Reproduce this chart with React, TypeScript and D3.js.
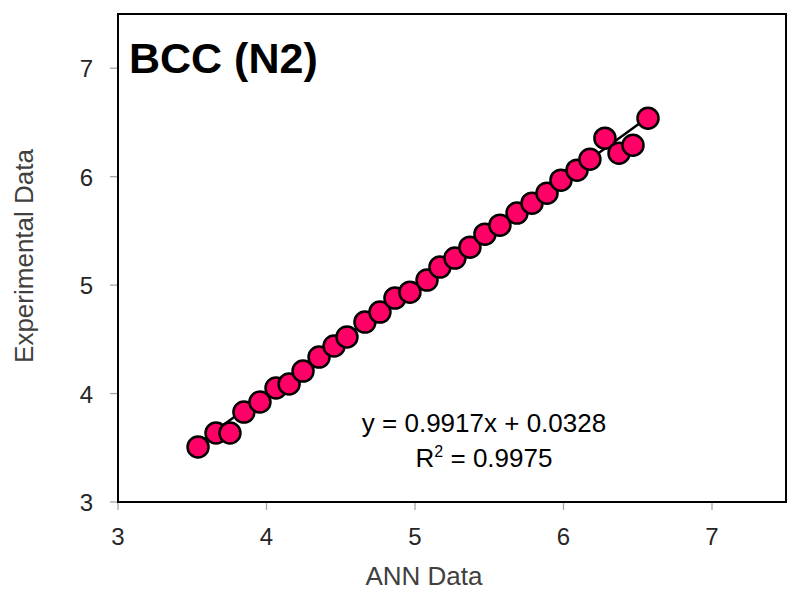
import React from "react";
import * as d3 from "d3";

const annData = [3.539, 3.66, 3.754, 3.848, 3.956, 4.064, 4.152, 4.246, 4.354, 4.455, 4.542, 4.663, 4.764, 4.865, 4.966, 5.081, 5.168, 5.269, 5.37, 5.471, 5.572, 5.687, 5.788, 5.889, 5.983, 6.091, 6.178, 6.279, 6.374, 6.468, 6.569];
const expData = [3.507, 3.636, 3.636, 3.829, 3.922, 4.051, 4.088, 4.207, 4.336, 4.438, 4.521, 4.659, 4.751, 4.88, 4.935, 5.046, 5.166, 5.249, 5.35, 5.47, 5.553, 5.664, 5.756, 5.848, 5.968, 6.06, 6.161, 6.355, 6.217, 6.29, 6.539];
const xTicks = [3, 4, 5, 6, 7];
const yTicks = [3, 4, 5, 6, 7];
const slope = 0.9917;
const intercept = 0.0328;
const title = "BCC (N2)";
const xLabel = "ANN Data";
const yLabel = "Experimental Data";

const W = 798, H = 592;
const L = 118, R = 786, T = 14, B = 502;
const FONT = "'Liberation Sans', Arial, sans-serif";

export default function App() {
  const x = d3.scaleLinear().domain([3, 7.5]).range([L, L + 4.5 * 148.5]);
  const y = d3.scaleLinear().domain([3, 7.5]).range([B, T]);
  const x0 = d3.min(annData)!, x1 = d3.max(annData)!;
  const line = d3.line<number>().x((d) => x(d)).y((d) => y(slope * d + intercept));
  return (
    <div style={{ position: "absolute", left: 0, top: 0 }}>
      <svg width={W} height={H} style={{ display: "block" }}>
        <rect width={W} height={H} fill="#fff" />
        {xTicks.map((t) => (
          <g key={"x" + t}>
            <line x1={x(t)} x2={x(t)} y1={B} y2={B + 8} stroke="#a6a6a6" strokeWidth={1.3} />
            <text x={x(t)} y={B + 43} textAnchor="middle" fontFamily={FONT} fontSize={24} fill="#262626">{t}</text>
          </g>
        ))}
        {yTicks.map((t) => (
          <g key={"y" + t}>
            <line x1={L - 8} x2={L} y1={y(t)} y2={y(t)} stroke="#a6a6a6" strokeWidth={1.3} />
            <text x={93} y={y(t) + 9} textAnchor="end" fontFamily={FONT} fontSize={24} fill="#262626">{t}</text>
          </g>
        ))}
        <rect x={L} y={T} width={R - L} height={B - T} fill="none" stroke="#000" strokeWidth={2} />
        <path d={line([x0, x1]) || ""} stroke="#000" strokeWidth={2.5} fill="none" />
        {annData.map((v, i) => (
          <circle key={i} cx={x(v)} cy={y(expData[i])} r={10.5} fill="#ff0066" stroke="#000" strokeWidth={2.5} />
        ))}
        <text x={129} y={73} fontFamily={FONT} fontWeight="bold" fontSize={43} fill="#000">{title}</text>
        <text x={484} y={432} textAnchor="middle" fontFamily={FONT} fontSize={26} fill="#000">y = 0.9917x + 0.0328</text>
        <text x={484} y={467} textAnchor="middle" fontFamily={FONT} fontSize={26} fill="#000">
          R<tspan dy={-10} fontSize={16}>2</tspan><tspan dy={10}> = 0.9975</tspan>
        </text>
        <text x={424} y={585} textAnchor="middle" fontFamily={FONT} fontSize={26} fill="#404040">{xLabel}</text>
        <text transform={`translate(33,256) rotate(-90)`} textAnchor="middle" fontFamily={FONT} fontSize={26} fill="#404040">{yLabel}</text>
      </svg>
    </div>
  );
}
